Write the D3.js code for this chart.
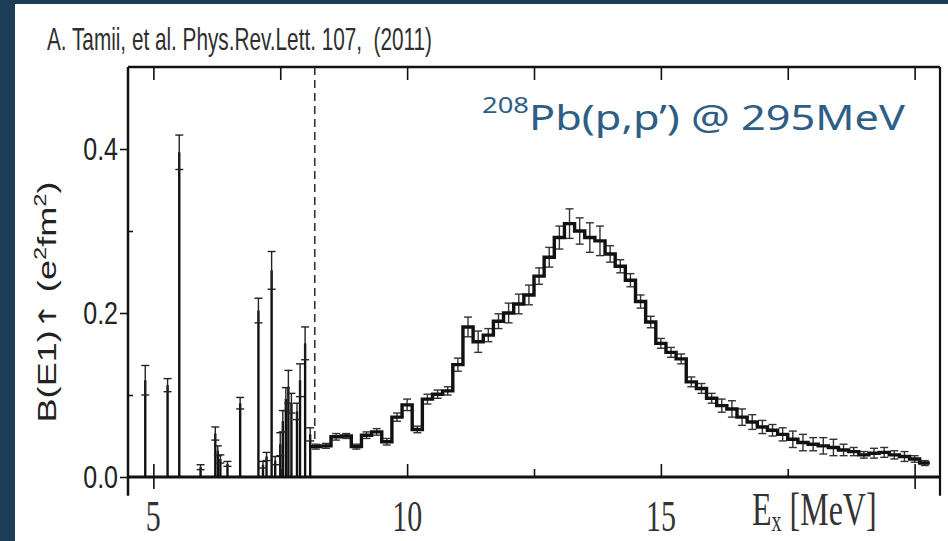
<!DOCTYPE html>
<html>
<head>
<meta charset="utf-8">
<script src="https://cdn.jsdelivr.net/npm/d3@7"></script>
<style>
  body { margin: 0; background: #1e3d58; }
  svg { display: block; }
</style>
</head>
<body>
<svg id="chart"></svg>
<script>
// discrete states below the dashed line, Ex in MeV, B(E1) in e^2 fm^2
const peakEx  = [4.84, 5.28, 5.51, 5.93, 6.22, 6.27, 6.32, 6.46, 6.71, 7.07, 7.16, 7.23,
                 7.33, 7.40, 7.50, 7.55, 7.61, 7.66, 7.72, 7.83, 7.89, 7.99, 8.09];
const peakB   = [0.118, 0.112, 0.396, 0.012, 0.053, 0.032, 0.022, 0.016, 0.090, 0.203, 0.015, 0.025,
                 0.252, 0.020, 0.040, 0.068, 0.095, 0.110, 0.090, 0.080, 0.118, 0.163, 0.052];
const peakErr = [0.018, 0.008, 0.021, 0.003, 0.008, 0.006, 0.005, 0.003, 0.007, 0.015, 0.004, 0.005,
                 0.023, 0.005, 0.014, 0.013, 0.014, 0.020, 0.012, 0.010, 0.020, 0.020, 0.008];

// continuum histogram, 0.2 MeV bins, first bin starts at 8.1 MeV
const binLow = 8.1;
const binWidth = 0.2;
const binB = [
  0.037, 0.038, 0.049, 0.050, 0.037, 0.051, 0.055, 0.043, 0.073, 0.088,
  0.058, 0.095, 0.101, 0.105, 0.137, 0.183, 0.165, 0.173, 0.190, 0.200,
  0.211, 0.222, 0.245, 0.268, 0.292, 0.309, 0.300, 0.292, 0.288, 0.272,
  0.257, 0.240, 0.214, 0.189, 0.163, 0.152, 0.144, 0.116, 0.108, 0.096,
  0.087, 0.083, 0.073, 0.067, 0.061, 0.057, 0.052, 0.046, 0.042, 0.040,
  0.038, 0.036, 0.033, 0.031, 0.027, 0.029, 0.030, 0.027, 0.025, 0.022,
  0.017
];
const binErr = [
  0.003, 0.003, 0.004, 0.003, 0.003, 0.004, 0.004, 0.004, 0.005, 0.007,
  0.004, 0.006, 0.005, 0.005, 0.008, 0.012, 0.013, 0.008, 0.009, 0.012,
  0.012, 0.012, 0.010, 0.012, 0.014, 0.018, 0.016, 0.018, 0.018, 0.010,
  0.008, 0.008, 0.008, 0.007, 0.006, 0.006, 0.006, 0.006, 0.006, 0.006,
  0.008, 0.010, 0.010, 0.009, 0.008, 0.007, 0.008, 0.010, 0.010, 0.008,
  0.010, 0.010, 0.007, 0.005, 0.004, 0.006, 0.006, 0.005, 0.006, 0.004,
  0.003
];

const thresholdEx = 8.18;
const xMajor = [5, 10, 15, 20];
const xMinor = [7.5, 12.5, 17.5];
const xLabelValues = [5, 10, 15];
const xLabels = ['5', '10', '15'];
const yMajor = [0, 0.2, 0.4];
const yMinor = [0.1, 0.3];

const W = 948, H = 541;
const ink = '#111';

const svg = d3.select('#chart')
  .attr('width', W)
  .attr('height', H);

svg.append('rect')
  .attr('width', W)
  .attr('height', H)
  .attr('fill', '#1e3d58');

svg.append('rect')
  .attr('x', 15)
  .attr('y', 4)
  .attr('width', W - 15)
  .attr('height', H - 4)
  .attr('fill', '#fff');

const x = d3.scaleLinear()
  .domain([4.5, 20.5])
  .range([128, 940]);

const y = d3.scaleLinear()
  .domain([0, 0.5])
  .range([477, 67]);

const yCut = y(-0.023); // the figure is cropped just below the zero line

// frame
const frame = svg.append('g')
  .attr('stroke', ink)
  .attr('fill', 'none');

frame.append('line')
  .attr('x1', x(4.5)).attr('x2', x(20.5))
  .attr('y1', y(0.5)).attr('y2', y(0.5))
  .attr('stroke-width', 2.5);

frame.append('line')
  .attr('x1', x(4.5)).attr('x2', x(4.5))
  .attr('y1', y(0.5)).attr('y2', yCut)
  .attr('stroke-width', 2.5);

frame.append('line')
  .attr('x1', x(20.5)).attr('x2', x(20.5))
  .attr('y1', y(0.5)).attr('y2', yCut)
  .attr('stroke-width', 2.2);

frame.append('line')
  .attr('x1', x(4.5)).attr('x2', x(20.5))
  .attr('y1', y(0)).attr('y2', y(0))
  .attr('stroke-width', 3);

const styleTicks = g => {
  g.select('.domain').remove();
  g.selectAll('.tick line').attr('stroke', ink).attr('stroke-width', 1.6);
};

// top ticks point down into the plot
svg.append('g')
  .attr('transform', `translate(0,${y(0.5)})`)
  .call(d3.axisBottom(x).tickValues(xMajor.concat(xMinor)).tickSize(13).tickFormat(''))
  .call(styleTicks);

// ticks on the zero line
svg.append('g')
  .attr('transform', `translate(0,${y(0)})`)
  .call(d3.axisBottom(x).tickValues(xMajor).tickSize(-13).tickFormat(''))
  .call(styleTicks);

svg.append('g')
  .attr('transform', `translate(0,${y(0)})`)
  .call(d3.axisBottom(x).tickValues(xMinor).tickSize(-8).tickFormat(''))
  .call(styleTicks);

svg.append('g')
  .attr('transform', `translate(0,${y(0)})`)
  .call(d3.axisBottom(x).tickValues([5, 20]).tickSize(12).tickFormat(''))
  .call(styleTicks);

// y axis
const yAxisG = svg.append('g')
  .attr('transform', `translate(${x(4.5)},0)`)
  .call(d3.axisLeft(y).tickValues(yMajor).tickSize(8).tickPadding(2).tickFormat(d3.format('.1f')))
  .call(styleTicks);

yAxisG.attr('font-size', 25)
  .attr('font-family', '"Liberation Sans", Arial, sans-serif');

yAxisG.selectAll('text')
  .attr('fill', '#222')
  .attr('transform', 'scale(1,1.25)');

svg.append('g')
  .attr('transform', `translate(${x(4.5)},0)`)
  .call(d3.axisRight(y).tickValues(yMinor).tickSize(5).tickFormat(''))
  .call(styleTicks);

// x tick labels (the figure is stretched vertically)
svg.append('g')
  .selectAll('text')
  .data(xLabelValues)
  .join('text')
  .attr('transform', d => `translate(${x(d)},531) scale(1,1.5)`)
  .attr('text-anchor', 'middle')
  .attr('fill', '#333')
  .style('font', '30px "Liberation Serif", "Times New Roman", serif')
  .text((d, i) => xLabels[i]);

const exLabel = svg.append('text')
  .attr('transform', 'translate(752,525) scale(1,1.42)')
  .attr('fill', '#333')
  .style('font', '32px "Liberation Serif", "Times New Roman", serif');
exLabel.append('tspan').text('E');
exLabel.append('tspan').attr('font-size', 20).attr('dy', 4).text('x');
exLabel.append('tspan').attr('dy', -4).text(' [MeV]');

// y label, superscripts as tspans
const yLabel = svg.append('text')
  .attr('transform', 'translate(56,302) rotate(-90)')
  .attr('text-anchor', 'middle')
  .attr('textLength', 241)
  .attr('lengthAdjust', 'spacingAndGlyphs')
  .attr('fill', '#222')
  .style('font', '26px "Liberation Sans", Arial, sans-serif');
yLabel.append('tspan').text('B(E1)');
yLabel.append('tspan').style('font-family', '"DejaVu Sans", sans-serif').attr('font-size', 24).text('\u2191');
yLabel.append('tspan').text(' (e');
yLabel.append('tspan').attr('font-size', 17).attr('dy', -10).text('2');
yLabel.append('tspan').attr('dy', 10).text('fm');
yLabel.append('tspan').attr('font-size', 17).attr('dy', -10).text('2');
yLabel.append('tspan').attr('dy', 10).text(')');

// dashed threshold line
svg.append('line')
  .attr('x1', x(thresholdEx)).attr('x2', x(thresholdEx))
  .attr('y1', y(0.5)).attr('y2', y(0.042))
  .attr('stroke', '#333')
  .attr('stroke-width', 1.6)
  .attr('stroke-dasharray', '8,5');

// error bar helper
const errBar = (g, ex, b, e) => {
  g.append('line')
    .attr('x1', x(ex)).attr('x2', x(ex))
    .attr('y1', y(b - e)).attr('y2', y(b + e));
  [b - e, b + e].forEach(v => {
    g.append('line')
      .attr('x1', x(ex) - 4).attr('x2', x(ex) + 4)
      .attr('y1', y(v)).attr('y2', y(v));
  });
};

// discrete states
const peaks = svg.append('g');

peaks.selectAll('line.stem')
  .data(peakEx)
  .join('line')
  .attr('class', 'stem')
  .attr('x1', d => x(d)).attr('x2', d => x(d))
  .attr('y1', y(0))
  .attr('y2', (d, i) => y(peakB[i]))
  .attr('stroke', ink)
  .attr('stroke-width', 2.4);

const peakErrG = peaks.append('g')
  .attr('stroke', '#222')
  .attr('stroke-width', 1.4);
peakEx.forEach((d, i) => errBar(peakErrG, d, peakB[i], peakErr[i]));

// continuum histogram
const steps = binB.map((b, i) => [binLow + i * binWidth, b]);
steps.push([binLow + binB.length * binWidth, binB[binB.length - 1]]);

const line = d3.line()
  .x(d => x(d[0]))
  .y(d => y(d[1]))
  .curve(d3.curveStepAfter);

const binErrG = svg.append('g')
  .attr('stroke', '#333')
  .attr('stroke-width', 1.4);
binB.forEach((b, i) => errBar(binErrG, binLow + (i + 0.5) * binWidth, b, binErr[i]));

svg.append('path')
  .datum(steps)
  .attr('fill', 'none')
  .attr('stroke', ink)
  .attr('stroke-width', 3.4)
  .attr('d', line);

// titles
svg.append('text')
  .attr('transform', 'translate(47,50) scale(1,1.5)')
  .attr('textLength', 385)
  .attr('lengthAdjust', 'spacingAndGlyphs')
  .attr('fill', '#2f2f2f')
  .style('white-space', 'pre')
  .style('font', '21px "Liberation Sans", Arial, sans-serif')
  .text('A. Tamii, et al. Phys.Rev.Lett. 107,  (2011)');

const reaction = svg.append('text')
  .attr('transform', 'translate(482,130) scale(1,1.15)')
  .attr('textLength', 423)
  .attr('lengthAdjust', 'spacingAndGlyphs')
  .attr('fill', '#2e5e86')
  .style('font-family', '"Comic Sans MS", "Noto Sans", sans-serif');
reaction.append('tspan').attr('font-size', 19).attr('dy', -15).text('208');
reaction.append('tspan').attr('font-size', 30).attr('dy', 15).text('Pb(p,p\u2019) @ 295MeV');
</script>
</body>
</html>
